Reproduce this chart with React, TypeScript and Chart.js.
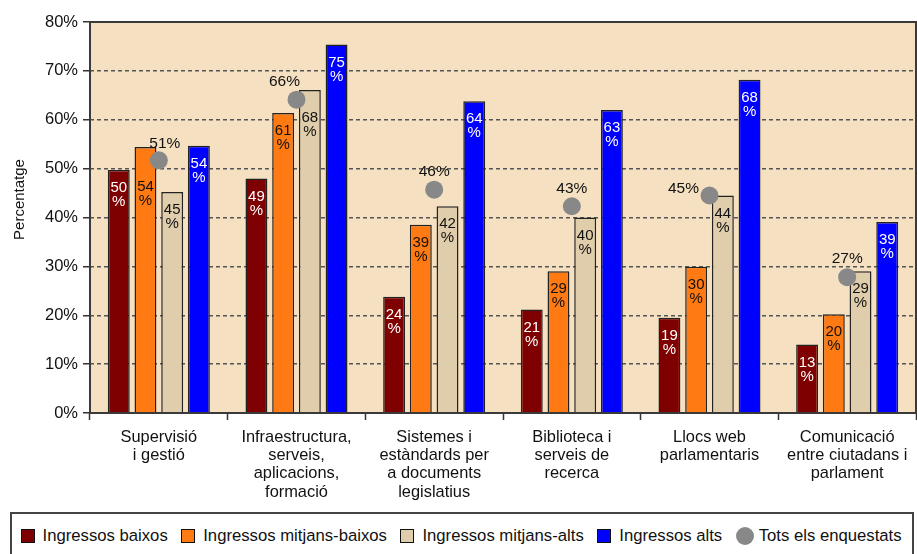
import React, { useEffect, useRef } from "react";
import { Chart, registerables } from "chart.js";

Chart.register(...registerables);

const categories: string[][] = [
  ["Supervisió", "i gestió"],
  ["Infraestructura,", "serveis,", "aplicacions,", "formació"],
  ["Sistemes i", "estàndards per", "a documents", "legislatius"],
  ["Biblioteca i", "serveis de", "recerca"],
  ["Llocs web", "parlamentaris"],
  ["Comunicació", "entre ciutadans i", "parlament"],
];

const seriesNames = [
  "Ingressos baixos",
  "Ingressos mitjans-baixos",
  "Ingressos mitjans-alts",
  "Ingressos alts",
  "Tots els enquestats",
];

// bar heights (percent)
const lowIncome = [49.7, 48.0, 23.8, 21.2, 19.5, 14.0];
const lowMidIncome = [54.4, 61.4, 38.5, 29.0, 29.9, 20.2];
const highMidIncome = [45.2, 66.1, 42.3, 40.0, 44.5, 29.0];
const highIncome = [54.7, 75.4, 63.8, 62.0, 68.2, 39.1];
const allRespondents = [51.7, 64.1, 45.7, 42.3, 44.5, 27.8];

// printed labels
const lowIncomeLabels = [50, 49, 24, 21, 19, 13];
const lowMidIncomeLabels = [54, 61, 39, 29, 30, 20];
const highMidIncomeLabels = [45, 68, 42, 40, 44, 29];
const highIncomeLabels = [54, 75, 64, 63, 68, 39];
const allRespondentsLabels = [51, 66, 46, 43, 45, 27];

const yTicks = [0, 10, 20, 30, 40, 50, 60, 70, 80];

const COLORS = ["#7f0000", "#ff7a12", "#e0cdab", "#0000ff", "#888888"];
const LABEL_COLORS = ["#ffffff", "#111111", "#111111", "#ffffff"];
const PLOT_BG = "#f5e1c1";
const FONT = "'Liberation Sans', Arial, Helvetica, sans-serif";

// label nudges (style only)
const barLabelExtra: Record<string, number> = { "1-0": 22, "2-1": 10 };
const dotLabelNudge: Record<number, [number, number]> = {
  0: [6, -17],
  1: [-12, -18],
  4: [-26, -7],
};

const decorPlugin = {
  id: "decor",
  beforeDraw(chart: any) {
    const { ctx, chartArea: a } = chart;
    ctx.save();
    ctx.fillStyle = PLOT_BG;
    ctx.fillRect(a.left, a.top, a.right - a.left, a.bottom - a.top);
    ctx.restore();
  },
  afterDatasetsDraw(chart: any) {
    const { ctx } = chart;
    const barLabels = [lowIncomeLabels, lowMidIncomeLabels, highMidIncomeLabels, highIncomeLabels];
    ctx.save();
    ctx.font = `15px ${FONT}`;
    ctx.textAlign = "center";
    ctx.textBaseline = "middle";
    for (let d = 1; d <= 4; d++) {
      const meta = chart.getDatasetMeta(d);
      meta.data.forEach((el: any, i: number) => {
        const extra = barLabelExtra[`${d - 1}-${i}`] || 0;
        ctx.fillStyle = LABEL_COLORS[d - 1];
        ctx.fillText(String(barLabels[d - 1][i]), el.x, el.y + 18 + extra);
        ctx.fillText("%", el.x, el.y + 32 + extra);
      });
    }
    const dmeta = chart.getDatasetMeta(0);
    ctx.fillStyle = "#111111";
    ctx.font = `15.5px ${FONT}`;
    dmeta.data.forEach((el: any, i: number) => {
      const [dx, dy] = dotLabelNudge[i] || [0, -18];
      ctx.fillText(`${allRespondentsLabels[i]}%`, el.x + dx, el.y + dy);
    });
    ctx.restore();
  },
  afterDraw(chart: any) {
    const { ctx, chartArea: a } = chart;
    ctx.save();
    ctx.strokeStyle = "#3a3a3a";
    ctx.lineWidth = 2;
    ctx.beginPath();
    ctx.moveTo(a.left, a.bottom);
    ctx.lineTo(a.left, a.top);
    ctx.lineTo(a.right, a.top);
    ctx.lineTo(a.right, a.bottom);
    ctx.moveTo(a.left, a.bottom);
    ctx.lineTo(a.right, a.bottom);
    ctx.stroke();
    // y axis title
    ctx.fillStyle = "#111111";
    ctx.font = `15px ${FONT}`;
    ctx.textAlign = "center";
    ctx.textBaseline = "middle";
    ctx.translate(20, (a.top + a.bottom) / 2 - 18);
    ctx.rotate(-Math.PI / 2);
    ctx.fillText("Percentatge", 0, 0);
    ctx.restore();
  },
};

export default function App() {
  const ref = useRef<HTMLCanvasElement | null>(null);

  useEffect(() => {
    document.body.style.margin = "0";
    document.documentElement.style.overflow = "hidden";
    if (!ref.current) return;
    Chart.defaults.font.family = FONT;
    const barCommon = {
      borderColor: "#222222",
      borderWidth: 1.5,
      order: 1,
      categoryPercentage: 0.776,
      barPercentage: 0.82,
    };
    const chart = new Chart(ref.current, {
      type: "bar",
      data: {
        labels: categories as any,
        datasets: [
          {
            type: "line",
            label: seriesNames[4],
            data: allRespondents,
            showLine: false,
            pointRadius: 9,
            pointHoverRadius: 9,
            pointBorderWidth: 0,
            pointBackgroundColor: COLORS[4],
            backgroundColor: COLORS[4],
            borderColor: COLORS[4],
            order: 0,
          } as any,
          { label: seriesNames[0], data: lowIncome, backgroundColor: COLORS[0], ...barCommon },
          { label: seriesNames[1], data: lowMidIncome, backgroundColor: COLORS[1], ...barCommon },
          { label: seriesNames[2], data: highMidIncome, backgroundColor: COLORS[2], ...barCommon },
          { label: seriesNames[3], data: highIncome, backgroundColor: COLORS[3], ...barCommon },
        ],
      },
      options: {
        animation: false,
        responsive: false,
        events: [],
        layout: { autoPadding: false, padding: { top: 22, right: 1, left: 0, bottom: 0 } },
        plugins: { legend: { display: false }, tooltip: { enabled: false } },
        scales: {
          x: {
            offset: true,
            grid: {
              offset: true,
              drawOnChartArea: false,
              drawTicks: true,
              tickLength: 7,
              tickColor: "#333333",
              tickWidth: 1.5,
              color: "#333333",
            },
            border: { display: false },
            ticks: {
              autoSkip: false,
              maxRotation: 0,
              minRotation: 0,
              padding: 8,
              color: "#111111",
              font: { size: 16.4, family: FONT, lineHeight: 1.12 },
            },
            afterFit: (s: any) => {
              s.height = 99;
              s.paddingLeft = 0;
              s.paddingRight = 0;
            },
          },
          y: {
            min: 0,
            max: 80,
            afterBuildTicks: (s: any) => {
              s.ticks = yTicks.map((v) => ({ value: v }));
            },
            grid: {
              color: (c: any) =>
                c.tick && (c.tick.value === 0 || c.tick.value === 80) ? "rgba(0,0,0,0)" : "#555555",
              lineWidth: 1.5,
              tickLength: 7,
              tickColor: "#333333",
              tickWidth: 1.5,
              tickBorderDash: [],
            },
            border: { display: false, dash: [4, 3] },
            ticks: {
              padding: 5,
              color: "#111111",
              font: { size: 16.5, family: FONT },
              callback: (v: any) => `${v}%`,
            },
            afterFit: (s: any) => {
              s.width = 90;
            },
          },
        },
      },
      plugins: [decorPlugin],
    });
    return () => chart.destroy();
  }, []);

  const legendItem = (i: number) => (
    <div key={i} style={{ display: "flex", alignItems: "center", marginRight: 13.5 }}>
      <span
        style={{
          display: "inline-block",
          width: i === 4 ? 18 : 14,
          height: i === 4 ? 18 : 14,
          boxSizing: "border-box",
          background: COLORS[i],
          border: i === 4 ? "none" : "1px solid #111",
          borderRadius: i === 4 ? "50%" : 0,
          marginRight: i === 4 ? 5 : 8,
        }}
      />
      <span>{seriesNames[i]}</span>
    </div>
  );

  return (
    <div
      style={{
        position: "relative",
        width: 917,
        height: 554,
        overflow: "hidden",
        background: "#ffffff",
        fontFamily: FONT,
      }}
    >
      <canvas
        ref={ref}
        width={917}
        height={512}
        style={{ position: "absolute", left: 0, top: 0, width: 917, height: 512 }}
      />
      <div
        style={{
          position: "absolute",
          left: 10,
          top: 512,
          width: 904,
          height: 60,
          boxSizing: "border-box",
          border: "2px solid #444",
          display: "flex",
          alignItems: "flex-start",
          paddingLeft: 8.5,
          paddingTop: 13,
          fontSize: 16.7,
          color: "#111",
          lineHeight: "18px",
          whiteSpace: "nowrap",
        }}
      >
        {[0, 1, 2, 3, 4].map(legendItem)}
      </div>
    </div>
  );
}
